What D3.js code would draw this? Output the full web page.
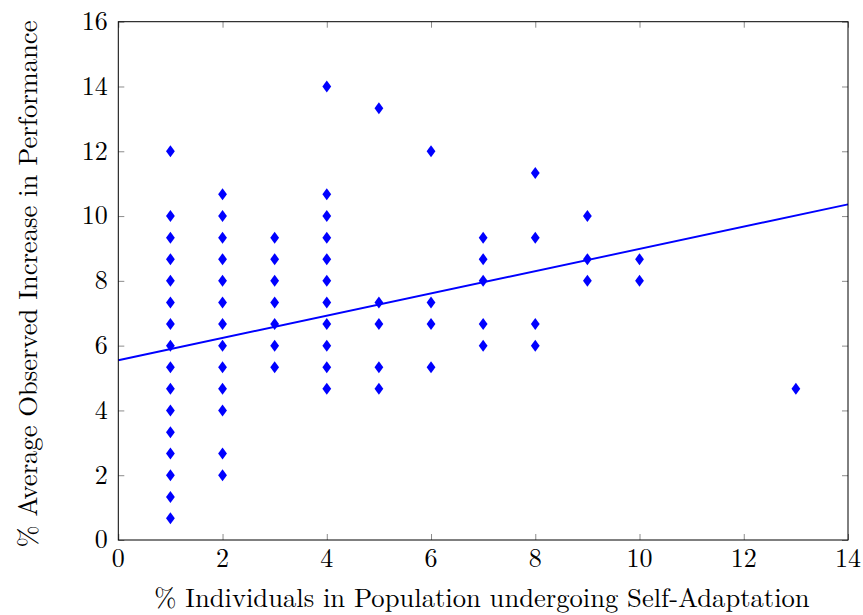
<!DOCTYPE html>
<html>
<head>
<meta charset="utf-8">
<script src="https://cdn.jsdelivr.net/npm/d3@7"></script>
<style>
  html, body { margin: 0; padding: 0; background: #fff; }
  svg { display: block; }
</style>
</head>
<body>
<svg id="chart" width="863" height="615"></svg>
<script>
// Observations: share of individuals self-adapting (x) vs. observed gain (y)
const xValues = [
  1,1,1,1,1,1,1,1,1,1,1,1,1,1,1,1,
  2,2,2,2,2,2,2,2,2,2,2,2,2,
  3,3,3,3,3,3,3,
  4,4,4,4,4,4,4,4,4,4,4,
  5,5,5,5,5,
  6,6,6,6,
  7,7,7,7,7,
  8,8,8,8,
  9,9,9,
  10,10,
  13
];
const yValues = [
  12,10,9.33,8.67,8,7.33,6.67,6,5.33,4.67,4,3.33,2.67,2,1.33,0.67,
  10.67,10,9.33,8.67,8,7.33,6.67,6,5.33,4.67,4,2.67,2,
  9.33,8.67,8,7.33,6.67,6,5.33,
  14,10.67,10,9.33,8.67,8,7.33,6.67,6,5.33,4.67,
  13.33,7.33,6.67,5.33,4.67,
  12,7.33,6.67,5.33,
  9.33,8.67,8,6.67,6,
  11.33,9.33,6.67,6,
  10,8.67,8,
  8.67,8,
  4.67
];
// Linear fit endpoints
const fitX = [0, 14];
const fitY = [5.55, 10.36];

const xTicks = [0, 2, 4, 6, 8, 10, 12, 14];
const yTicks = [0, 2, 4, 6, 8, 10, 12, 14, 16];
const xTitle = "% Individuals in Population undergoing Self-Adaptation";
const yTitle = "% Average Observed Increase in Performance";

const FONT = "'Latin Modern Roman', 'Liberation Serif', serif";
const svg = d3.select("#chart");
const plotL = 118.3, plotR = 848, plotT = 21.7, plotB = 540;

const x = d3.scaleLinear().domain([0, 14]).range([plotL, plotR]);
const y = d3.scaleLinear().domain([0, 16]).range([plotB, plotT]);

const tickLen = 6;
const tickColor = "#8c8c8c";

// inward ticks on all four sides
const g = svg.append("g");
function styleTicks(sel) {
  sel.select(".domain").remove();
  sel.selectAll(".tick line").attr("stroke", tickColor).attr("stroke-width", 1);
}
g.append("g").attr("transform", `translate(0,${plotB})`)
  .call(d3.axisTop(x).tickValues(xTicks).tickSize(tickLen).tickFormat(""))
  .call(styleTicks);
g.append("g").attr("transform", `translate(0,${plotT})`)
  .call(d3.axisBottom(x).tickValues(xTicks).tickSize(tickLen).tickFormat(""))
  .call(styleTicks);
g.append("g").attr("transform", `translate(${plotL},0)`)
  .call(d3.axisRight(y).tickValues(yTicks).tickSize(tickLen).tickFormat(""))
  .call(styleTicks);
g.append("g").attr("transform", `translate(${plotR},0)`)
  .call(d3.axisLeft(y).tickValues(yTicks).tickSize(tickLen).tickFormat(""))
  .call(styleTicks);

// tick labels
svg.append("g").selectAll("text").data(xTicks).join("text")
  .attr("x", d => x(d)).attr("y", plotB + 26.5)
  .attr("text-anchor", "middle")
  .attr("font-family", FONT).attr("font-size", 26)
  .text(d => d);
svg.append("g").selectAll("text").data(yTicks).join("text")
  .attr("x", plotL - 10.5).attr("y", d => y(d) + 8.4)
  .attr("text-anchor", "end")
  .attr("font-family", FONT).attr("font-size", 26)
  .text(d => d);

// regression line
const line = d3.line().x(d => x(d[0])).y(d => y(d[1]));
svg.append("path")
  .datum(d3.zip(fitX, fitY))
  .attr("d", line)
  .attr("fill", "none").attr("stroke", "#0000ff").attr("stroke-width", 1.9);

// diamond markers
const points = d3.zip(xValues, yValues);
svg.append("g").selectAll("path").data(points).join("path")
  .attr("transform", d => `translate(${x(d[0])},${y(d[1])})`)
  .attr("d", "M0,-6L4.4,0L0,6L-4.4,0Z")
  .attr("fill", "#0000ff");

// frame
svg.append("rect")
  .attr("x", plotL).attr("y", plotT)
  .attr("width", plotR - plotL).attr("height", plotB - plotT)
  .attr("fill", "none").attr("stroke", "#000").attr("stroke-width", 1);

// axis titles
svg.append("text")
  .attr("x", 482).attr("y", 607)
  .attr("text-anchor", "middle")
  .attr("font-family", FONT).attr("font-size", 26.6)
  .text(xTitle);
svg.append("text")
  .attr("transform", `translate(36.5,284) rotate(-90)`)
  .attr("text-anchor", "middle")
  .attr("font-family", FONT).attr("font-size", 26.6)
  .text(yTitle);
</script>
</body>
</html>
